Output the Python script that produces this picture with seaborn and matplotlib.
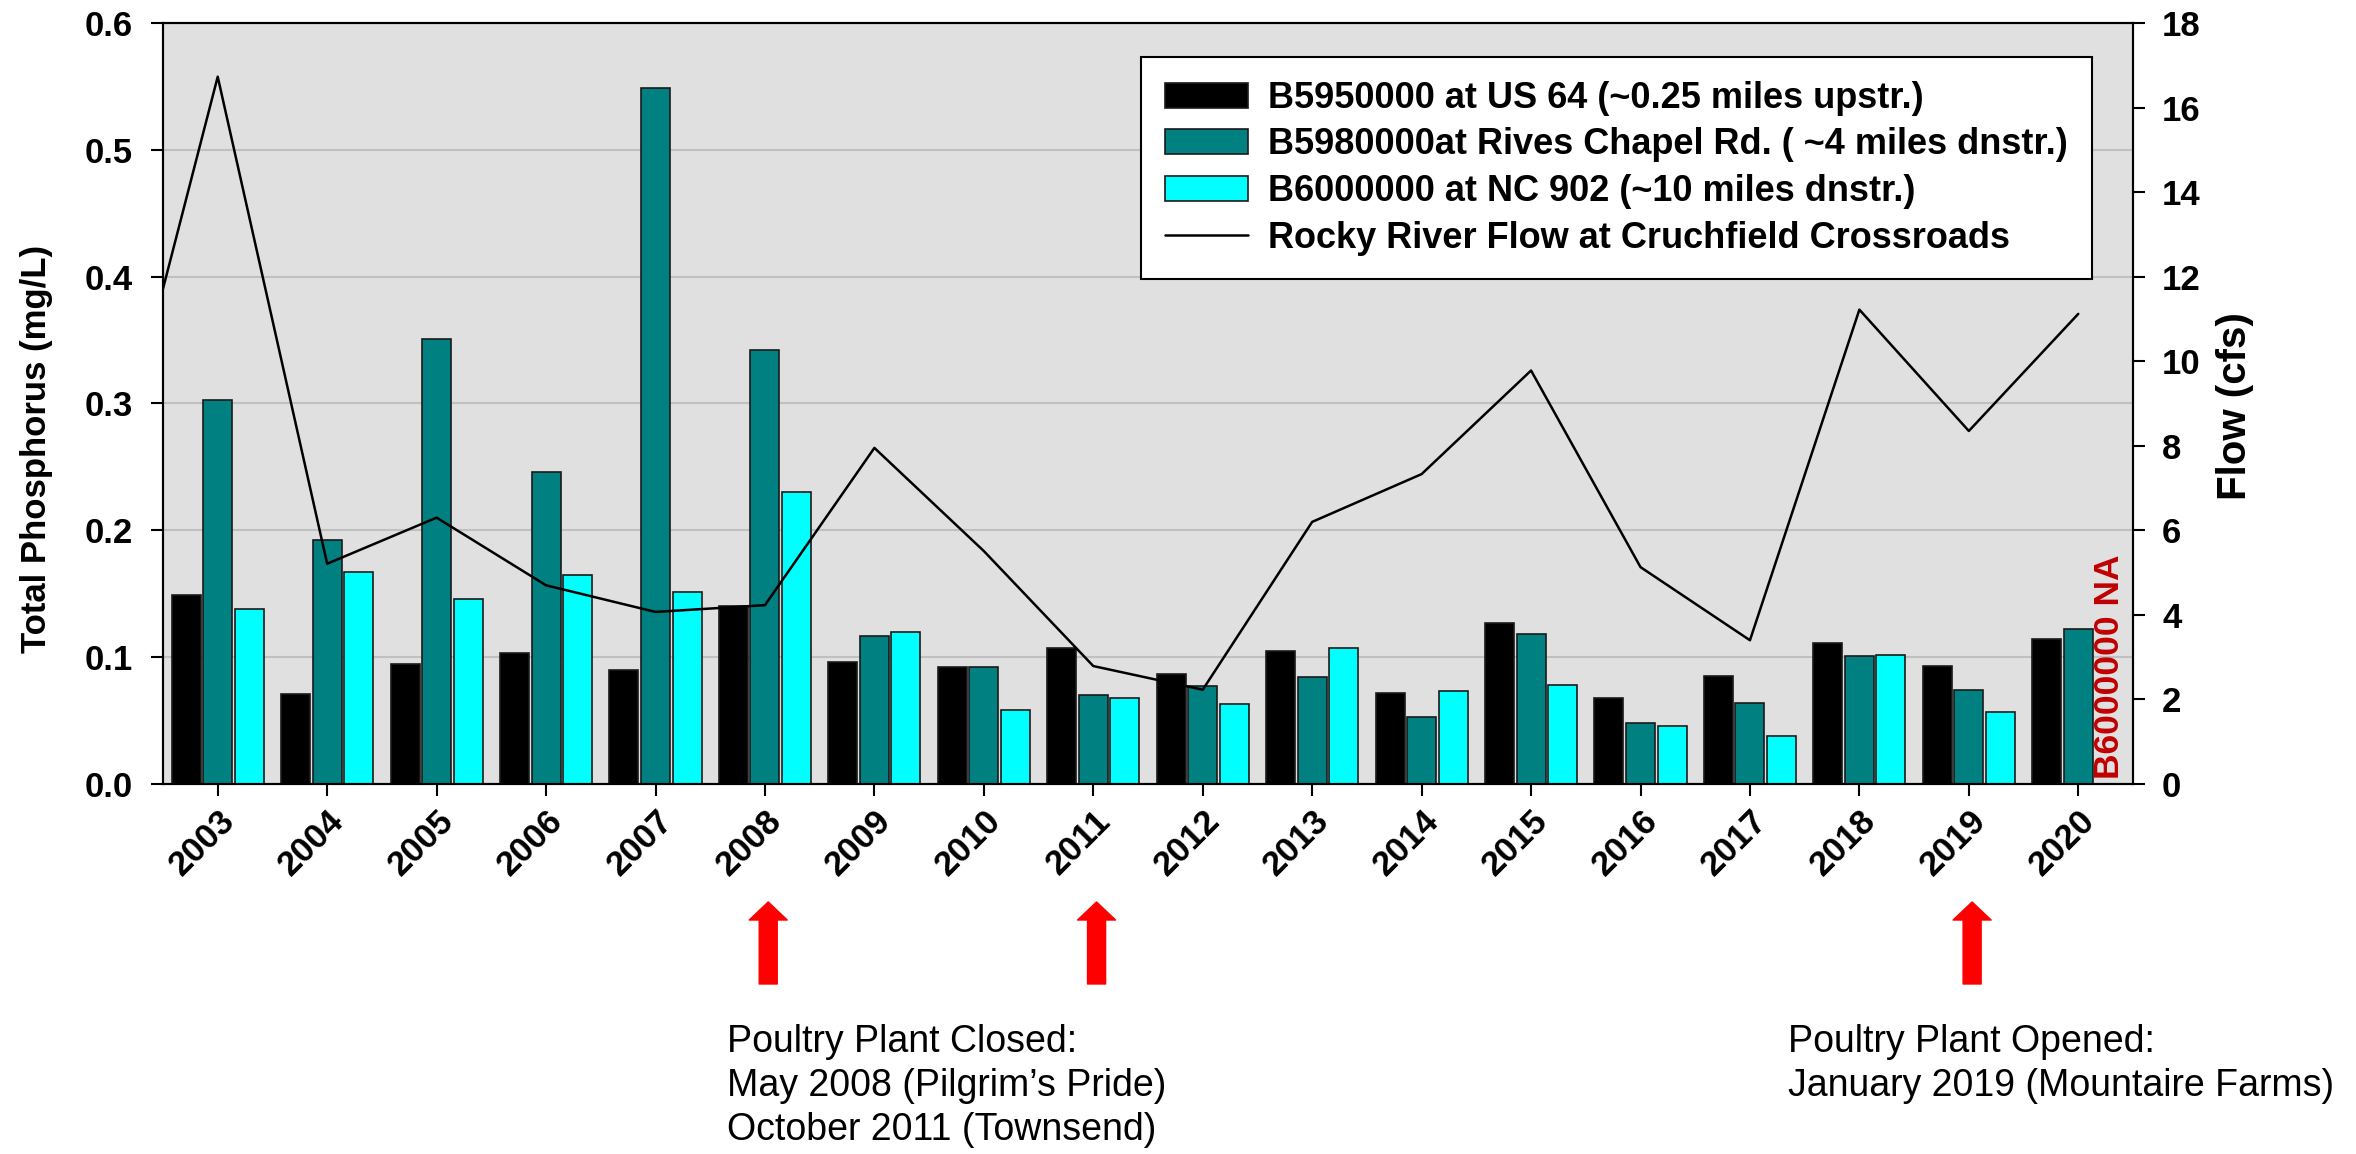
import numpy as np
import pandas as pd
import matplotlib
matplotlib.use("Agg")
import matplotlib.pyplot as plt
import seaborn as sns
from matplotlib.lines import Line2D

# ---- data -------------------------------------------------------------
years = list(range(2003, 2021))

tp_b5950000 = [0.149, 0.071, 0.095, 0.103, 0.090, 0.140, 0.096, 0.092, 0.107,
               0.087, 0.105, 0.072, 0.127, 0.068, 0.085, 0.111, 0.093, 0.114]
tp_b5980000 = [0.303, 0.192, 0.351, 0.246, 0.549, 0.342, 0.117, 0.092, 0.070,
               0.077, 0.084, 0.053, 0.118, 0.048, 0.064, 0.101, 0.074, 0.122]
tp_b6000000 = [0.138, 0.167, 0.146, 0.165, 0.151, 0.230, 0.120, 0.058, 0.068,
               0.063, 0.107, 0.073, 0.078, 0.046, 0.038, 0.102, 0.057, np.nan]

flow_years = list(range(2002, 2021))
flow_cfs = [6.7, 16.73, 5.21, 6.30, 4.70, 4.07, 4.23, 7.95, 5.51, 2.79,
            2.23, 6.20, 7.33, 9.78, 5.13, 3.40, 11.22, 8.35, 11.12]

station_labels = [
    "B5950000 at US 64 (~0.25 miles upstr.)",
    "B5980000at Rives Chapel Rd. ( ~4 miles dnstr.)",
    "B6000000 at NC 902 (~10 miles dnstr.)",
]
flow_label = "Rocky River Flow at Cruchfield Crossroads"
station_colors = ["#000000", "#008080", "#00FFFF"]

closed_note = "Poultry Plant Closed:\nMay 2008 (Pilgrim\u2019s Pride)\nOctober 2011 (Townsend)"
opened_note = "Poultry Plant Opened:\nJanuary 2019 (Mountaire Farms)"
event_years = [2008, 2011, 2019]

# ---- long-form table for seaborn -------------------------------------
df = pd.DataFrame({
    "year": years * 3,
    "tp": tp_b5950000 + tp_b5980000 + tp_b6000000,
    "station": [s for s in station_labels for _ in years],
})

# ---- style --------------------------------------------------------------
sns.set_theme(style="ticks")
plt.rcParams["font.family"] = ["Liberation Sans", "DejaVu Sans"]
plt.rcParams["font.weight"] = "bold"
plt.rcParams["axes.labelweight"] = "bold"
for key in ("text.color", "axes.labelcolor", "xtick.color", "ytick.color",
            "axes.edgecolor"):
    plt.rcParams[key] = "black"

FS = 25

fig = plt.figure(figsize=(23.56, 11.54), dpi=100)
ax = fig.add_axes([163 / 2356, 1 - 784 / 1154, 1970 / 2356, 761 / 1154])
ax.set_facecolor("#E0E0E0")

sns.barplot(
    data=df, x="year", y="tp", hue="station", hue_order=station_labels,
    palette=station_colors, native_scale=True, width=0.864, gap=0.08,
    saturation=1, errorbar=None, edgecolor="#1a1a1a", linewidth=1.2,
    ax=ax, zorder=2,
)
bar_handles, bar_labels = ax.get_legend_handles_labels()
ax.get_legend().remove()

ax2 = ax.twinx()
sns.lineplot(x=flow_years, y=flow_cfs, ax=ax2, color="black",
             linewidth=1.8, legend=False)

# ---- axes ---------------------------------------------------------------
ax.set_xlim(2002.5, 2020.5)
ax.set_ylim(0, 0.6)
ax2.set_ylim(0, 18)

ax.set_xticks(years)
ax.set_xticklabels([str(y) for y in years], rotation=45, ha="right",
                   va="top", rotation_mode="anchor")
ax.set_yticks(np.arange(0, 0.61, 0.1))
ax.set_yticklabels([f"{v:.1f}" for v in np.arange(0, 0.61, 0.1)])
ax2.set_yticks(range(0, 19, 2))

ax.yaxis.grid(True, color="#C0C0C0", linewidth=1.5)
ax.set_axisbelow(True)

for a in (ax, ax2):
    for sp in a.spines.values():
        sp.set_visible(True)
        sp.set_color("black")
        sp.set_linewidth(1.5)
    a.tick_params(axis="both", direction="out", length=8.5, width=1.5,
                  labelsize=FS, colors="black")
ax.tick_params(axis="x", pad=6)
ax.tick_params(axis="y", pad=13.5)
ax2.tick_params(axis="y", pad=12.4)
for lab in ax.get_xticklabels() + ax.get_yticklabels() + ax2.get_yticklabels():
    lab.set_fontweight("bold")

ax.set_xlabel("")
ax.set_ylabel("Total Phosphorus (mg/L)", fontsize=25, fontweight="bold")
ax.yaxis.set_label_coords(-0.0558, 0.4407)
ax2.set_ylabel("Flow (cfs)", fontsize=29, fontweight="bold")
ax2.yaxis.set_label_coords(1.0421, 0.496)

# missing-data note in the empty third slot of the last group
ax.text(2020 + 0.288, 0.004, "B6000000 NA", rotation=90, ha="center",
        va="bottom", color="#C00000", fontsize=25.5, fontweight="bold",
        zorder=3)

# ---- legend -------------------------------------------------------------
line_handle = Line2D([], [], color="black", linewidth=1.8)
leg = ax2.legend(
    bar_handles + [line_handle], bar_labels + [flow_label],
    loc="upper right", bbox_to_anchor=(0.979, 0.9553), borderaxespad=0,
    fontsize=26, frameon=True, fancybox=False, framealpha=1,
    edgecolor="black", facecolor="white", handlelength=2.3,
    handleheight=0.68, handletextpad=0.55, labelspacing=0.32, borderpad=0.66,
)
leg.get_frame().set_linewidth(1.5)
for t in leg.get_texts():
    t.set_fontweight("bold")

# ---- event arrows and notes --------------------------------------------
xtrans = ax.get_xaxis_transform()
for yr in event_years:
    ax.annotate(
        "", xy=(yr + 0.03, -0.155), xytext=(yr + 0.03, -0.2628),
        xycoords=xtrans, textcoords=xtrans, annotation_clip=False,
        arrowprops=dict(arrowstyle="simple,head_length=0.65,head_width=1.37,tail_width=0.65",
                        color="#FF0000", mutation_scale=20, shrinkA=0, shrinkB=0),
    )

fig.text(727 / 2356, 1 - 1024 / 1154, closed_note, ha="left", va="top",
         fontsize=27, fontweight="normal", linespacing=1.28)
fig.text(1788 / 2356, 1 - 1024 / 1154, opened_note, ha="left", va="top",
         fontsize=27, fontweight="normal", linespacing=1.28)

fig.savefig("out.png", dpi=100)
